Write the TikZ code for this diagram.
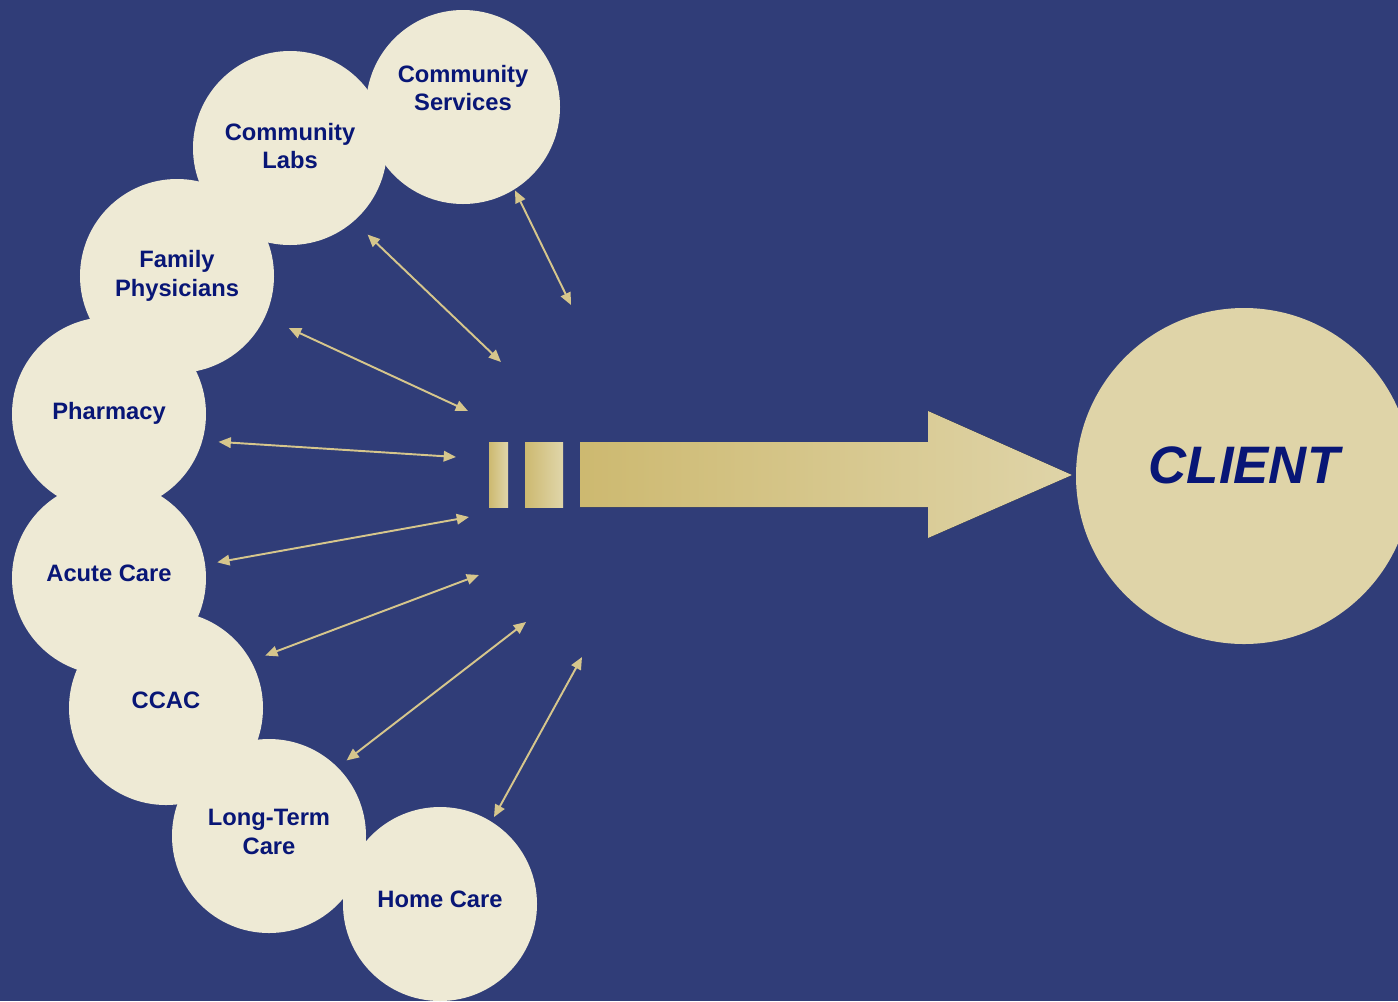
\documentclass[tikz,border=0pt]{standalone}
\usepackage{fontspec}
\setmainfont{Liberation Sans}
\usetikzlibrary{arrows.meta}

\definecolor{bgBlue}{RGB}{48,61,120}
\definecolor{cream}{RGB}{238,234,213}
\definecolor{clientTan}{RGB}{223,212,168}
\definecolor{linkTan}{RGB}{214,198,140}
\definecolor{labelBlue}{RGB}{8,22,118}
\definecolor{goldDark}{RGB}{205,185,112}
\definecolor{goldLight}{RGB}{224,214,170}

\begin{document}
\begin{tikzpicture}[x=0.2mm, y=-0.2mm, font=\fontsize{13.5}{16.2}\selectfont\bfseries]

	\tikzstyle{partner} = [circle, fill=cream, text=labelBlue, minimum size=38.8mm, inner sep=0pt, align=center]
	\tikzstyle{link} = [linkTan, line width=1.1pt, {Triangle[length=7pt,width=6pt]}-{Triangle[length=7pt,width=6pt]}]
	\tikzstyle{goldBar} = [left color=goldDark, right color=goldLight]

	% Background
	\useasboundingbox (0,0) rectangle (1398,1001);
	\fill[bgBlue] (0,0) rectangle (1398,1001);
	\clip (0,0) rectangle (1398,1001);

	% Nodes
	\node[partner, text depth=22pt] (services) at (463,107) {Community\\Services};
	\node[partner, text depth=2.5pt] (labs) at (290,148) {Community\\Labs};
	\node[partner] (family) at (177,276) {Family\\Physicians};
	\node[partner, text depth=4pt] (pharmacy) at (109,414) {Pharmacy};
	\node[partner, text depth=6pt] (acute) at (109,578) {Acute Care};
	\node[partner, text depth=9pt] (ccac) at (166,708) {CCAC};
	\node[partner, text depth=4.7pt] (ltc) at (269,836) {Long-Term\\Care};
	\node[partner, text depth=6pt] (home) at (440,904) {Home Care};
	\node[circle, fill=clientTan, text=labelBlue, minimum size=67.2mm, inner sep=0pt, text depth=12pt,
		font=\fontsize{30}{36}\selectfont\bfseries\itshape] (client) at (1244,476) {CLIENT};

	% Hub ends
	\coordinate (hubServices) at (571,305);
	\coordinate (hubLabs) at (501,362);
	\coordinate (hubFamily) at (468,411);
	\coordinate (hubPharmacy) at (456,457);
	\coordinate (hubAcute) at (469,517);
	\coordinate (hubCcac) at (479,575);
	\coordinate (hubLtc) at (526,622);
	\coordinate (hubHome) at (582,657);

	% Links
	\draw[link, shorten <=0.2mm] (services.-58) -- (hubServices);
	\draw[link, shorten <=3.8mm] (labs.-49) -- (hubLabs);
	\draw[link, shorten <=5.2mm] (family.-25) -- (hubFamily);
	\draw[link, shorten <=3.2mm] (pharmacy.-16) -- (hubPharmacy);
	\draw[link, shorten <=2.4mm] (acute.8) -- (hubAcute);
	\draw[link, shorten <=3mm] (ccac.29) -- (hubCcac);
	\draw[link, shorten <=2.2mm] (ltc.45) -- (hubLtc);
	\draw[link, shorten <=1mm] (home.58) -- (hubHome);

	% Flow arrow
	\fill[goldBar] (489,442) rectangle (508,507);
	\fill[goldBar] (525,442) rectangle (563,507);
	\fill[left color=goldDark, right color=clientTan] (580,442) -- (928,442) -- (928,411)
		-- (1072,475) -- (928,538) -- (928,507) -- (580,507) -- cycle;

\end{tikzpicture}
\end{document}
